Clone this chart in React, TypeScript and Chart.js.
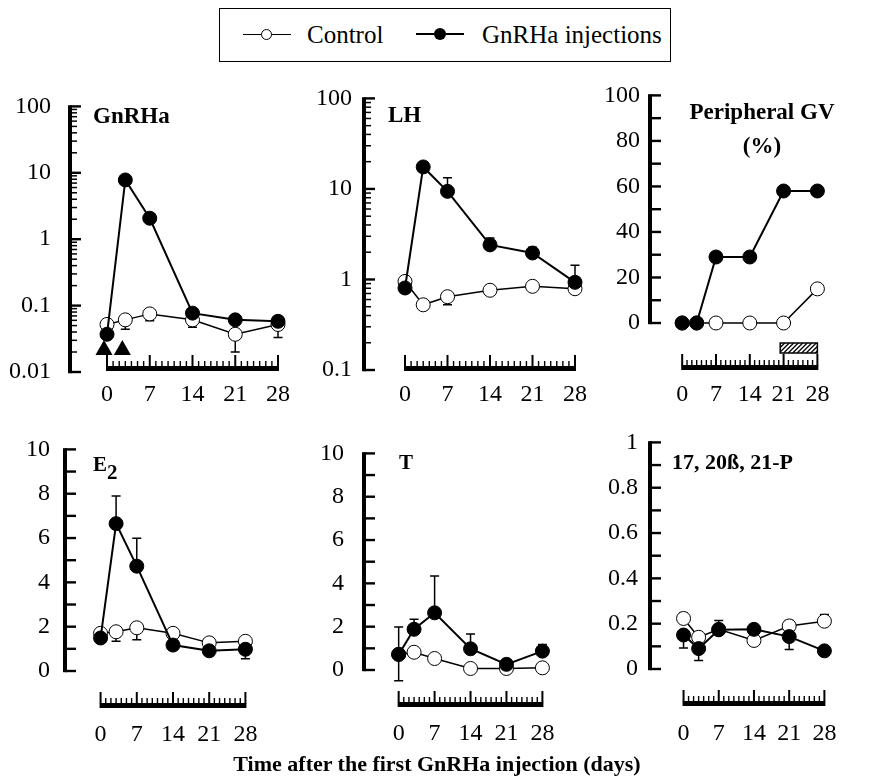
import React, { useEffect, useRef } from "react";
import { Chart, registerables } from "chart.js";

Chart.register(...registerables);

const FONT = "'Liberation Serif', 'Times New Roman', serif";
const TICK_FS = 24;

// ---------- data ----------
const days = [0, 3, 7, 14, 21, 28];
const xTickLabels = [0, 7, 14, 21, 28];
const injectionDays = [0, 3];
const hatchSpan = [20.3, 28];

// GnRHa (log)
const gnrhaCtrl = [0.052, 0.061, 0.075, 0.061, 0.037, 0.052];
const gnrhaCtrlLow = [null, 0.044, 0.059, 0.047, 0.02, 0.033];
const gnrhaInj = [0.037, 7.8, 2.07, 0.077, 0.061, 0.058];
const gnrhaTicks = [0.01, 0.1, 1, 10, 100];

// LH (log)
const lhCtrl = [0.95, 0.525, 0.645, 0.76, 0.84, 0.79];
const lhCtrlLow = [null, null, 0.525, null, null, 0.75];
const lhInj = [0.805, 17.5, 9.4, 2.41, 1.96, 0.93];
const lhInjHigh = [null, null, 13.3, 2.88, 2.27, 1.44];
const lhTicks = [0.1, 1, 10, 100];

// Peripheral GV (%)
const gvCtrl = [0, 0, 0, 0, 0, 15];
const gvInj = [0, 0, 29, 29, 58, 58];
const gvTicks = [0, 20, 40, 60, 80, 100];

// E2
const e2Ctrl = [1.7, 1.77, 1.95, 1.7, 1.27, 1.34];
const e2CtrlLow = [null, 1.34, 1.41, null, null, null];
const e2Inj = [1.49, 6.65, 4.73, 1.17, 0.91, 0.98];
const e2InjHigh = [null, 7.9, 5.99, null, null, null];
const e2InjLow = [null, null, null, null, null, 0.55];
const e2Ticks = [0, 2, 4, 6, 8, 10];

// T
const tCtrl = [0.72, 0.82, 0.53, 0.07, 0.07, 0.1];
const tCtrlLow = [null, null, 0.36, null, null, -0.02];
const tInj = [0.72, 1.88, 2.64, 0.98, 0.26, 0.87];
const tInjHigh = [1.99, 2.34, 4.34, 1.66, null, 1.18];
const tInjLow = [-0.5, null, null, null, null, null];
const tTicks = [0, 2, 4, 6, 8, 10];

// 17,20b,21-P
const pCtrl = [0.223, 0.14, 0.175, 0.126, 0.19, 0.211];
const pCtrlHigh = [0.247, null, null, null, 0.214, 0.24];
const pInj = [0.15, 0.09, 0.173, 0.175, 0.143, 0.08];
const pInjLow = [0.093, 0.037, null, null, 0.086, null];
const pInjHigh = [null, null, 0.214, null, null, null];
const pTicks = [0, 0.2, 0.4, 0.6, 0.8, 1];

type Arr = (number | null)[];
type Series = { values: number[]; low?: Arr; high?: Arr };
type Geo = {
  axisX: number; top: number; bottom: number; d0: number; d28: number;
  bar: number; labelY: number; yGap: number;
};
type PanelDef = {
  id: string;
  log: boolean;
  yMin: number; yMax: number;
  yTicks: number[];
  minorStep?: number;
  ctrl: Series; inj: Series;
  geo: Geo;
  triangles?: boolean;
  hatch?: boolean;
};

const panels: PanelDef[] = [
  {
    id: "gnrha", log: true, yMin: 0.01, yMax: 100, yTicks: gnrhaTicks,
    ctrl: { values: gnrhaCtrl, low: gnrhaCtrlLow }, inj: { values: gnrhaInj },
    geo: { axisX: 70, top: 93, bottom: 372, d0: 107, d28: 278, bar: 368.5, labelY: 395, yGap: 19 },
    triangles: true,
  },
  {
    id: "lh", log: true, yMin: 0.1, yMax: 100, yTicks: lhTicks,
    ctrl: { values: lhCtrl, low: lhCtrlLow }, inj: { values: lhInj, high: lhInjHigh },
    geo: { axisX: 364, top: 92, bottom: 370, d0: 405, d28: 575, bar: 368.5, labelY: 395, yGap: 12 },
  },
  {
    id: "gv", log: false, yMin: 0, yMax: 100, yTicks: gvTicks, minorStep: 10,
    ctrl: { values: gvCtrl }, inj: { values: gvInj },
    geo: { axisX: 650, top: 91, bottom: 323, d0: 690, d28: 858, bar: 367.5, labelY: 395, yGap: 10 },
    hatch: true,
  },
  {
    id: "e2", log: false, yMin: 0, yMax: 10, yTicks: e2Ticks, minorStep: 1,
    ctrl: { values: e2Ctrl, low: e2CtrlLow }, inj: { values: e2Inj, high: e2InjHigh, low: e2InjLow },
    geo: { axisX: 65, top: 440, bottom: 671, d0: 107, d28: 278, bar: 705.5, labelY: 735, yGap: 15 },
  },
  {
    id: "t", log: false, yMin: 0, yMax: 10, yTicks: tTicks, minorStep: 1,
    ctrl: { values: tCtrl, low: tCtrlLow }, inj: { values: tInj, high: tInjHigh, low: tInjLow },
    geo: { axisX: 364, top: 439, bottom: 670, d0: 405, d28: 575, bar: 704.5, labelY: 734, yGap: 20 },
  },
  {
    id: "p", log: false, yMin: 0, yMax: 1, yTicks: pTicks, minorStep: 0.1,
    ctrl: { values: pCtrl, high: pCtrlHigh }, inj: { values: pInj, low: pInjLow, high: pInjHigh },
    geo: { axisX: 650, top: 436, bottom: 669, d0: 690, d28: 858, bar: 703.5, labelY: 734, yGap: 12 },
  },
];

const Y_W = 72;
const PAD_T = 20;
const PAD_R = 16;
const RIGHT_EXT = 14;

function canvasBox(g: Geo) {
  const left = g.axisX - Y_W;
  const top = g.top - PAD_T;
  const width = g.d28 + RIGHT_EXT + PAD_R - left;
  const xH = g.labelY - g.bottom + 22;
  const height = g.bottom - top + xH;
  return { left, top, width, height, xH };
}

function axisTicks(p: PanelDef): { v: number; major: boolean }[] {
  const out: { v: number; major: boolean }[] = [];
  if (p.log) {
    for (let e = Math.log10(p.yMin); e < Math.log10(p.yMax) - 1e-9; e++) {
      const base = Math.pow(10, e);
      for (let k = 2; k <= 9; k++) out.push({ v: base * k, major: false });
    }
    p.yTicks.forEach((v) => out.push({ v, major: true }));
  } else {
    const n = Math.round((p.yMax - p.yMin) / (p.minorStep as number));
    for (let i = 0; i <= n; i++) out.push({ v: p.yMin + i * (p.minorStep as number), major: true });
  }
  return out;
}

function decorPlugin(p: PanelDef) {
  return {
    id: "decor_" + p.id,
    beforeDatasetsDraw(chart: any) {
      const { ctx, chartArea: a, scales } = chart;
      const xs = scales.x;
      const ys = scales.y;
      const g = p.geo;
      ctx.save();
      ctx.strokeStyle = "#000";
      ctx.fillStyle = "#000";
      ctx.lineCap = "butt";

      // y axis line
      const yTop = ys.getPixelForValue(p.yMax);
      const yBot = ys.getPixelForValue(p.yMin);
      ctx.lineWidth = 4;
      ctx.beginPath();
      ctx.moveTo(a.left, yTop - 1.2);
      ctx.lineTo(a.left, yBot + 1.2);
      ctx.stroke();
      axisTicks(p).forEach((t) => {
        const py = ys.getPixelForValue(t.v);
        const len = t.major ? 11 : 7;
        ctx.lineWidth = t.major ? 2.4 : 1.5;
        ctx.beginPath();
        ctx.moveTo(a.left, py);
        ctx.lineTo(a.left + len, py);
        ctx.stroke();
      });

      // x bar with daily ticks
      const barC = a.bottom + (g.bar - g.bottom);
      const x0 = xs.getPixelForValue(0);
      const x28 = xs.getPixelForValue(28);
      ctx.fillRect(x0 - 1, barC - 2.5, x28 - x0 + 2, 5);
      for (let d = 0; d <= 28; d++) {
        const px = xs.getPixelForValue(d);
        const major = d % 7 === 0;
        ctx.lineWidth = major ? 2 : 1.4;
        ctx.beginPath();
        ctx.moveTo(px, barC - 2);
        ctx.lineTo(px, barC - 2.5 - (major ? 11 : 5));
        ctx.stroke();
      }

      // error bars
      const drawErr = (s: Series) => {
        ctx.lineWidth = 1.5;
        days.forEach((d, i) => {
          const px = xs.getPixelForValue(d);
          const pv = ys.getPixelForValue(s.values[i]);
          [s.low, s.high].forEach((arr) => {
            if (!arr || arr[i] === null || arr[i] === undefined) return;
            const pe = ys.getPixelForValue(arr[i] as number);
            ctx.beginPath();
            ctx.moveTo(px, pv);
            ctx.lineTo(px, pe);
            ctx.moveTo(px - 4.5, pe);
            ctx.lineTo(px + 4.5, pe);
            ctx.stroke();
          });
        });
      };
      drawErr(p.ctrl);
      drawErr(p.inj);

      // injection arrows
      if (p.triangles) {
        const base = a.bottom - 17;
        injectionDays.forEach((d) => {
          const cx = xs.getPixelForValue(d) - 3;
          ctx.beginPath();
          ctx.moveTo(cx - 8.5, base);
          ctx.lineTo(cx + 8.5, base);
          ctx.lineTo(cx, base - 15);
          ctx.closePath();
          ctx.fill();
        });
      }

      // hatched period box
      if (p.hatch) {
        const hx0 = xs.getPixelForValue(hatchSpan[0]);
        const hx1 = xs.getPixelForValue(hatchSpan[1]);
        const hy = a.bottom + 20;
        const hh = 10;
        ctx.save();
        ctx.fillStyle = "#fff";
        ctx.fillRect(hx0, hy, hx1 - hx0, hh);
        ctx.beginPath();
        ctx.rect(hx0, hy, hx1 - hx0, hh);
        ctx.clip();
        ctx.lineWidth = 1.3;
        ctx.strokeStyle = "#000";
        for (let sx = hx0 - hh; sx < hx1 + hh; sx += 4.5) {
          ctx.beginPath();
          ctx.moveTo(sx, hy + hh);
          ctx.lineTo(sx + hh, hy);
          ctx.stroke();
        }
        ctx.restore();
        ctx.lineWidth = 1.5;
        ctx.strokeRect(hx0, hy, hx1 - hx0, hh);
      }
      ctx.restore();
    },
  };
}

function makeChart(canvas: HTMLCanvasElement, p: PanelDef) {
  const g = p.geo;
  const box = canvasBox(g);
  const ppd = (g.d28 - g.d0) / 28;
  const xMin = -(g.d0 - g.axisX) / ppd;
  const xMax = 28 + RIGHT_EXT / ppd;
  const labelPad = g.labelY - g.bottom - (TICK_FS * 1.2) / 2;
  const pts = (vals: number[]) => days.map((d, i) => ({ x: d, y: vals[i] }));
  const tickFont = { family: FONT, size: TICK_FS };

  return new Chart(canvas, {
    type: "line",
    data: {
      datasets: [
        {
          label: "GnRHa injections",
          data: pts(p.inj.values),
          borderColor: "#000",
          backgroundColor: "#000",
          borderWidth: 2,
          pointRadius: 7,
          pointBackgroundColor: "#000",
          pointBorderColor: "#000",
          pointBorderWidth: 1,
          clip: false,
        },
        {
          label: "Control",
          data: pts(p.ctrl.values),
          borderColor: "#000",
          backgroundColor: "#fff",
          borderWidth: 1.5,
          pointRadius: 7,
          pointBackgroundColor: "#fff",
          pointBorderColor: "#000",
          pointBorderWidth: 1,
          clip: false,
        },
      ],
    },
    options: {
      animation: false,
      responsive: false,
      events: [],
      layout: { padding: { top: PAD_T, right: PAD_R, left: 0, bottom: 0 } },
      plugins: { legend: { display: false }, tooltip: { enabled: false } },
      scales: {
        x: {
          type: "linear",
          min: xMin,
          max: xMax,
          grid: { display: false, drawTicks: false },
          border: { display: false },
          afterBuildTicks: (s: any) => {
            s.ticks = xTickLabels.map((v) => ({ value: v }));
          },
          afterFit: (s: any) => {
            s.height = box.xH;
          },
          ticks: {
            padding: labelPad,
            color: "#000",
            font: tickFont,
            maxRotation: 0,
            autoSkip: false,
            callback: (v: any) => String(v),
          },
        },
        y: {
          type: p.log ? "logarithmic" : "linear",
          min: p.yMin,
          max: p.yMax,
          grid: { display: false, drawTicks: false },
          border: { display: false },
          afterBuildTicks: (s: any) => {
            s.ticks = p.yTicks.map((v) => ({ value: v }));
          },
          afterFit: (s: any) => {
            s.width = Y_W;
          },
          ticks: {
            padding: g.yGap,
            color: "#000",
            font: tickFont,
            autoSkip: false,
            callback: (v: any) => String(v),
          },
        },
      },
    } as any,
    plugins: [decorPlugin(p)],
  });
}

function Panel({ p }: { p: PanelDef }) {
  const ref = useRef<HTMLCanvasElement | null>(null);
  const box = canvasBox(p.geo);
  useEffect(() => {
    if (!ref.current) return;
    const chart = makeChart(ref.current, p);
    return () => chart.destroy();
  }, [p]);
  return (
    <canvas
      ref={ref}
      width={box.width}
      height={box.height}
      style={{ position: "absolute", left: box.left, top: box.top, width: box.width, height: box.height }}
    />
  );
}

const titleStyle = (left: number, cy: number, fs: number): React.CSSProperties => ({
  position: "absolute",
  left,
  top: cy - fs / 2,
  fontFamily: FONT,
  fontWeight: "bold",
  fontSize: fs,
  lineHeight: 1,
  whiteSpace: "nowrap",
  color: "#000",
});

export default function App() {
  return (
    <div
      style={{
        position: "fixed",
        left: 0,
        top: 0,
        width: 874,
        height: 780,
        background: "#fff",
        overflow: "hidden",
      }}
    >
      {panels.map((p) => (
        <Panel key={p.id} p={p} />
      ))}

      {/* panel titles */}
      <div style={titleStyle(93, 115, 23)}>GnRHa</div>
      <div style={titleStyle(388, 114, 23)}>LH</div>
      <div style={{ ...titleStyle(0, 111, 23), left: 762, transform: "translateX(-50%)" }}>Peripheral GV</div>
      <div style={{ ...titleStyle(0, 145, 23), left: 762, transform: "translateX(-50%)" }}>(%)</div>
      <div style={titleStyle(93, 464, 21)}>
        E<sub style={{ fontSize: 21, verticalAlign: "baseline", position: "relative", top: 8 }}>2</sub>
      </div>
      <div style={titleStyle(399, 462, 21)}>T</div>
      <div style={titleStyle(672, 462, 22)}>17, 20ß, 21-P</div>

      {/* legend */}
      <div
        style={{
          position: "absolute",
          left: 219,
          top: 8,
          width: 452,
          height: 54,
          border: "1.5px solid #000",
          boxSizing: "border-box",
        }}
      >
        <div style={{ position: "absolute", left: 23, top: 24.5, width: 48, height: 0, borderTop: "1.5px solid #000" }} />
        <div
          style={{
            position: "absolute",
            left: 46 - 5.5,
            top: 25 - 5.5,
            width: 11,
            height: 11,
            borderRadius: "50%",
            border: "1px solid #000",
            background: "#fff",
            boxSizing: "border-box",
          }}
        />
        <div
          style={{
            position: "absolute",
            left: 87,
            top: 25 - 12.5,
            fontFamily: FONT,
            fontSize: 25,
            lineHeight: 1,
            whiteSpace: "nowrap",
          }}
        >
          Control
        </div>
        <div style={{ position: "absolute", left: 196, top: 24, width: 48, height: 0, borderTop: "2px solid #000" }} />
        <div
          style={{
            position: "absolute",
            left: 220 - 6,
            top: 25 - 6,
            width: 12,
            height: 12,
            borderRadius: "50%",
            background: "#000",
          }}
        />
        <div
          style={{
            position: "absolute",
            left: 262,
            top: 25 - 12.5,
            fontFamily: FONT,
            fontSize: 25,
            lineHeight: 1,
            whiteSpace: "nowrap",
          }}
        >
          GnRHa injections
        </div>
      </div>

      {/* x axis title */}
      <div
        style={{
          ...titleStyle(0, 764, 22),
          left: 437,
          transform: "translateX(-50%)",
        }}
      >
        Time after the first GnRHa injection (days)
      </div>
    </div>
  );
}
